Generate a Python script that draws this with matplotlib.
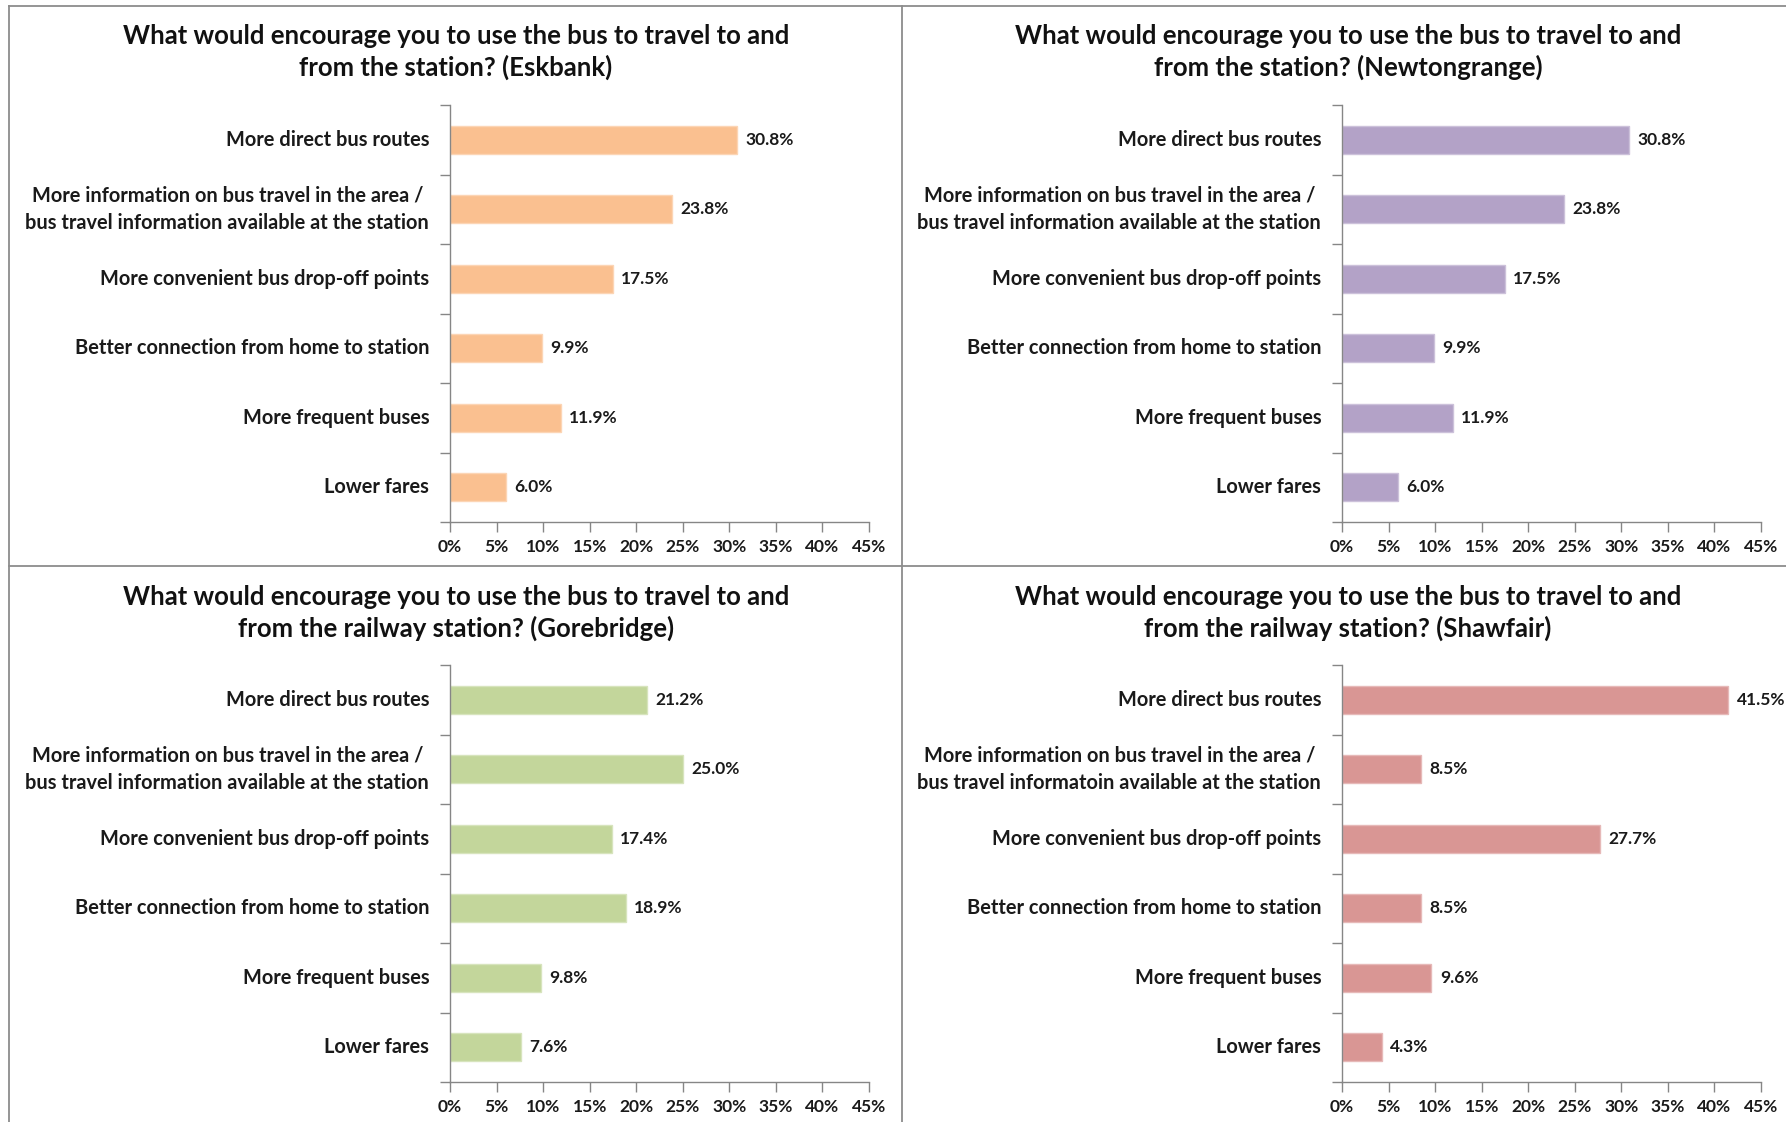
import matplotlib
matplotlib.use("Agg")
import matplotlib.pyplot as plt
from matplotlib.lines import Line2D
from matplotlib.ticker import FixedLocator

# Survey responses per station (percent of respondents)
categories = [
    "More direct bus routes",
    "More information on bus travel in the area /\nbus travel information available at the station",
    "More convenient bus drop-off points",
    "Better connection from home to station",
    "More frequent buses",
    "Lower fares",
]
categories_shawfair = [
    "More direct bus routes",
    "More information on bus travel in the area /\nbus travel informatoin available at the station",
    "More convenient bus drop-off points",
    "Better connection from home to station",
    "More frequent buses",
    "Lower fares",
]
eskbank = [30.8, 23.8, 17.5, 9.9, 11.9, 6.0]
newtongrange = [30.8, 23.8, 17.5, 9.9, 11.9, 6.0]
gorebridge = [21.2, 25.0, 17.4, 18.9, 9.8, 7.6]
shawfair = [41.5, 8.5, 27.7, 8.5, 9.6, 4.3]

titles = [
    "What would encourage you to use the bus to travel to and\nfrom the station? (Eskbank)",
    "What would encourage you to use the bus to travel to and\nfrom the station? (Newtongrange)",
    "What would encourage you to use the bus to travel to and\nfrom the railway station? (Gorebridge)",
    "What would encourage you to use the bus to travel to and\nfrom the railway station? (Shawfair)",
]
x_ticks = [0, 5, 10, 15, 20, 25, 30, 35, 40, 45]
x_tick_labels = ["0%", "5%", "10%", "15%", "20%", "25%", "30%", "35%", "40%", "45%"]

plt.rcParams["font.family"] = ["Lato", "DejaVu Sans"]
plt.rcParams["font.weight"] = "bold"

W, H = 1786, 1122
fig = plt.figure(figsize=(W / 100, H / 100), dpi=100)
fig.patch.set_facecolor("white")

AXIS_GREY = "#868686"
FRAME_GREY = "#8c8c8c"

panels = [
    # (values, labels, colour, edge, axes left px, axes right px, axes top px, axes bottom px, title x px, title y px)
    (eskbank, categories, "#FAC090", "#FCD5B5", 450, 869, 105, 522, 456, 52),
    (newtongrange, categories, "#B3A2C7", "#CCC1DA", 1342, 1761, 105, 522, 1348, 52),
    (gorebridge, categories, "#C3D69B", "#D7E4BD", 450, 869, 665, 1082, 456, 613),
    (shawfair, categories_shawfair, "#D99694", "#E6B9B8", 1342, 1761, 665, 1082, 1348, 613),
]

for (vals, labels, col, edge, l, r, t, b, tx, ty), title in zip(panels, titles):
    ax = fig.add_axes([l / W, 1 - b / H, (r - l) / W, (b - t) / H])
    ypos = list(range(len(vals)))
    ax.barh(ypos, vals, height=0.4, color=col, edgecolor=edge, linewidth=1.0)
    ax.set_xlim(0, 45)
    ax.set_ylim(len(vals) - 0.5, -0.5)
    for y, v in zip(ypos, vals):
        ax.text(v + 0.9, y, f"{v:.1f}%", va="center", ha="left",
                fontsize=12.5, fontweight="bold", color="#1a1a1a")
    ax.set_yticks(ypos)
    ax.set_yticklabels(labels, fontsize=14.4, fontweight="bold", color="#1a1a1a",
                       ha="right", va="center", multialignment="center",
                       linespacing=1.42)
    ax.tick_params(axis="y", length=0, pad=15)
    # category boundary ticks on the value axis
    ax.yaxis.set_minor_locator(FixedLocator([i - 0.5 for i in range(len(vals) + 1)]))
    ax.tick_params(axis="y", which="minor", length=7, color=AXIS_GREY, width=1)
    ax.set_xticks(x_ticks)
    ax.set_xticklabels(x_tick_labels, fontsize=12.5, fontweight="bold", color="#1a1a1a")
    ax.tick_params(axis="x", length=7, color=AXIS_GREY, width=1, pad=5)
    for s in ("top", "right"):
        ax.spines[s].set_visible(False)
    for s in ("left", "bottom"):
        ax.spines[s].set_color(AXIS_GREY)
        ax.spines[s].set_linewidth(1)
    fig.text(tx / W, 1 - ty / H, title, ha="center", va="center",
             fontsize=18.5, fontweight="bold", color="#111111", linespacing=1.33)

# panel frames
frame_lines = [
    ((9, W), (6, 6)),
    ((9, 9), (6, H)),
    ((902, 902), (6, H)),
    ((9, W), (566, 566)),
]
for xs, ys in frame_lines:
    fig.add_artist(Line2D([x / W for x in xs], [1 - y / H for y in ys],
                          color=FRAME_GREY, linewidth=1.3))

fig.savefig("out.png", dpi=100)
